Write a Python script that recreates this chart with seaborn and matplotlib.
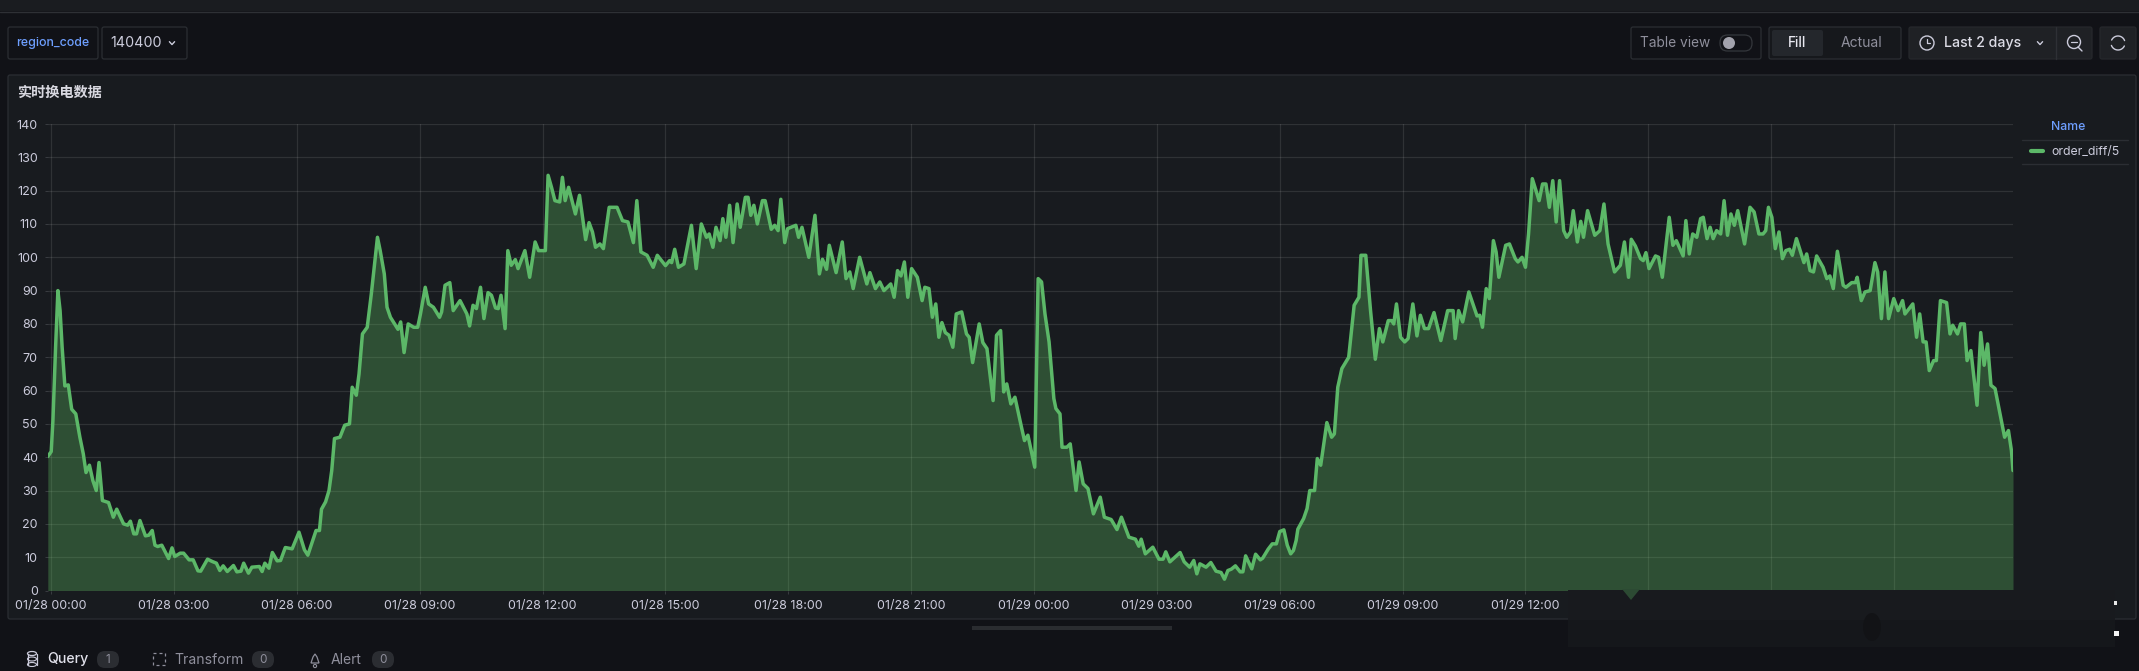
import matplotlib
matplotlib.use("Agg")
import matplotlib.pyplot as plt
from matplotlib.patches import Rectangle, FancyBboxPatch, Circle, Polygon, Ellipse
import seaborn as sns
import numpy as np

# ---- data: minutes since 01/28 00:00, value read at each visible vertex ----
night1_min = [-5,0,2.5,6.4,9.8,13,16,20,25,30,36,42,47,51,56,61,66,70,75,84,91,96,106,112,116,121,125,130,138,143,148,152,156,162,172,177,181,189,194,202,208,215,219,229,236,242,247,252,258,267,272,278,282,289,294,305,309,313,319,324,331,336,343,353,363,371,376,388,393]
night1_val = [40.2,41.7,51,73,90,84,73,61.4,61.7,54.4,53,46,41,35.4,37.6,33,30,38.4,27,26.4,22,24.4,20,19.6,20.8,17,17,21,16.4,16.6,18,13.6,13.2,13.6,9.6,12.8,10.2,11.2,11.2,9.2,9.2,5.9,5.8,9.4,8.7,8.2,6,7.4,5.7,7.5,5.6,5.8,8.2,5.2,7,7.2,5.7,8.2,6.7,11.4,8.9,9,12.9,12.5,17.5,12.2,10.6,18,18]

morning1_min = [396,402,407,411,415,423,430,437,441,447,451,456,463,469,478,482,488,492,497,508,512,517,523,531,537,541,548,553,560,569,572,577,584,589,599,609,613,618,623,629,634,640,645,651,655,659,665,669,674,680,684,694,701]
morning1_val = [24.4,26.6,30,36,45.6,46,49.6,50,61,58.6,65,77,79,89,106,102,95,85,82,78.4,80.6,71.4,80,79,79,83,91,86,85,82,83.6,91.6,92.4,84,87,83,79.4,85.6,84.6,91,81.6,89.4,88.6,84.8,84.6,88.6,78.6,102,97.6,99.3,96.6,102,94]

day1_min = [709,714,724,728,733,738,745,749,753,758,768,774,783,788,793,797.5,804,809,817.5,829,837,845,853,858,864,873,882,888,900,906,909,913.5,919,927,938,945,952.5,960,964,969.5,974,980,984,988.5,994,999,1005,1009.5,1017,1021,1025,1029.5,1034.6,1042,1046,1055,1060,1065,1069,1074.7,1079,1091,1095,1100,1110,1119,1125.5,1130,1136,1140,1150,1159,1164.5,1170,1175,1184.5,1195,1199.5,1207.6,1214,1220,1230,1235,1240,1245,1250,1255,1260.6,1269,1276,1280,1286,1291,1296,1300.5,1305,1310,1315.4,1321,1326,1334,1341,1345,1350,1359.6,1365,1371,1380,1385,1391,1395.5,1400,1406,1412,1422,1426,1431]
day1_val = [104.6,102,102,124.6,121,117,116.6,124,117,121,113,118.6,105.3,110.4,107.6,103,104,102.6,115,115,111,110.6,104.4,117,101.6,100.6,97,100.6,97.5,99,98.4,102.4,97,98,109.6,96.6,110,106,107,103,109,105,111.6,106,115.6,104.4,116,109,118,118,112.6,115.6,110,117,117,108.4,109.6,108,117.4,104.4,108.6,109.6,106,109,100,112.6,95,99.4,96.4,103.6,95.4,104.6,93.6,95.6,90.6,100,92,95.4,90.6,92.6,90,92,88,96,94.4,98.6,88,96.6,94,87,91,90.6,82,86,76,80.4,77.4,76.6,73,83,83.6,77,76,68.4,80,74.4,72.6,57,76.6,78,59.6,62,56,58,48.6,45,46.6]

night2_min = [1441,1446,1451,1456,1462,1469,1472,1478,1481,1488,1493,1501.5,1506,1512,1519,1527,1537,1543,1553,1561.5,1568,1579,1588.5,1593.5,1597,1603,1614,1623,1629,1633,1639,1654,1660,1668,1674,1678.5,1683,1692,1699,1706.6,1714,1719,1724,1729,1735,1742,1746,1750,1759,1764.6,1771.5,1775,1783,1789,1795,1800,1806,1811,1816,1820,1824]
night2_val = [37,93.6,92.6,83,74.6,57.6,54.6,53,43,43,44,30,38.6,32,30.6,23,28,22,21.3,18.3,22,16,15.4,13.3,15.4,11,13,9.4,9.4,11.6,8.6,11.4,8.6,7,9,5,8,7,8.4,5.8,5.4,3.4,6,6.4,7.4,5.6,5.6,10.4,6.5,10.9,9.2,9.7,12.4,14,14,17.7,18.2,13.6,11,12,15]

morning2_min = [1826.5,1835,1840,1844,1851,1855,1860,1869,1876,1880,1885,1891,1901,1909,1916,1919,1926,1933,1940,1946,1951,1959,1964,1967,1971,1977,1983,1988,1995,2001,2006,2012,2018,2026,2036,2046,2054,2057,2062,2068,2077,2089,2093,2097,2102.5,2107,2113,2117,2121]
morning2_val = [18.4,21.6,24.6,30,30,39.6,37.6,50.4,46,47,61,66.6,70,85.6,88,100.6,100.6,84,69.4,78.6,74.6,81,81,80,86,76,74.6,75.6,86,76.4,82.6,78.6,78.6,83.4,75,84,84,75.6,84,80.6,89.6,82.4,82.6,79,90.6,87.6,105,101.6,94]

day2_min = [2131,2136.5,2145,2149,2155,2160,2164.5,2170,2180,2185,2190,2195,2200,2205,2210,2216,2220.5,2226,2230,2236,2241,2245,2251,2261.5,2269,2275,2281,2290.5,2299,2305,2311,2315,2321,2328.6,2332.5,2336.5,2341,2350.5,2355,2360.5,2370.6,2376,2381,2391,2395,2400,2405,2411,2416.6,2420.5,2426,2430.6,2435,2440,2446,2451,2456,2461,2466,2471,2481,2489,2495,2502,2508,2512,2516,2521,2526,2531.4,2536.5,2541.5,2547,2551,2557,2568,2572,2577,2582,2586.6,2596,2601.5,2606,2611,2617,2625.5,2629.5,2638,2643.5,2646,2652,2657.5,2665,2672,2676,2681.5,2686.6,2692,2699.6,2706,2712.5,2716,2727.5,2733,2737.6,2742.6,2747,2751.6,2758,2762,2768,2777,2782,2786,2793,2797.5,2803,2807,2812.6,2821.6,2827,2832,2837,2842,2848,2862,2867.6,2872,2874.3]
day2_val = [103.6,104,99.6,98.6,100,97,107,123.6,117,122,122,115,123,110.6,123,108,106,107.6,114,104.6,110.8,106,114,106.6,108,116,104,95.6,97.6,104.6,94,105.4,103.4,99.6,99,101.4,96.6,100.4,100,94,112,103.6,105,100.4,111,101,107,106,111.6,112,105.6,109,105.6,108,107,117,106.6,113,109.6,114,104,115,113.6,107,107,108,115,112,102.6,107.6,99.6,102,102.4,100.6,105.6,98.4,101,96,95.6,100.4,97,93.6,94.4,90.6,101.8,91.6,91,92.4,92.4,94,87,89.6,90,98.4,95.6,81.6,95.6,81.6,87.6,84,87,83,86,76,83,74.6,74.6,66,69,69,87,86.4,77,79.6,77,80,80,69,72,55.6,77.4,67.6,74,61.6,60.6,46,48,42,36]

tick_minutes = list(range(0, 2701, 180))
tick_labels = ["01/28 00:00","01/28 03:00","01/28 06:00","01/28 09:00","01/28 12:00","01/28 15:00",
               "01/28 18:00","01/28 21:00","01/29 00:00","01/29 03:00","01/29 06:00","01/29 09:00",
               "01/29 12:00","","",""]
y_ticks = list(range(0, 141, 10))
series_name = "order_diff/5"
panel_title = "实时换电数据"

minutes = np.array(night1_min + morning1_min + day1_min + night2_min + morning2_min + day2_min, dtype=float)
values = np.array(night1_val + morning1_val + day1_val + night2_val + morning2_val + day2_val, dtype=float)
assert len(minutes) == len(values), (len(minutes), len(values))

# ---- styling ----
W, H = 2139, 671
PAGE = "#111217"; PANEL = "#181b1f"; BORDER = "#2b2e33"
GREEN = "#5cb868"; TXT = "#ccccdc"; DIM = "#8f8f9c"; BLUE = "#6e9fff"
sns.set_theme(style="dark", rc={"axes.facecolor": "none", "figure.facecolor": PAGE})
plt.rcParams["font.family"] = ["Inter", "Noto Sans CJK SC", "DejaVu Sans"]

fig = plt.figure(figsize=(W / 100, H / 100), dpi=100, facecolor=PAGE)

# background UI layer, in pixel coordinates
bg = fig.add_axes([0, 0, 1, 1], zorder=0)
bg.set_xlim(0, W); bg.set_ylim(H, 0); bg.axis("off")

def box(ax, x0, y0, x1, y1, fc="none", ec=BORDER, r=2, lw=0.9, z=2):
    ax.add_patch(FancyBboxPatch((x0 + r, y0 + r), x1 - x0 - 2 * r, y1 - y0 - 2 * r,
                                boxstyle=f"round,pad={r},rounding_size={r}", fc=fc, ec=ec, lw=lw, zorder=z))

def label(ax, x, y, s, color=TXT, size=9.2, ha="left", weight="normal", z=5):
    ax.text(x, y + 1, s, color=color, fontsize=size, ha=ha, va="center", fontweight=weight, zorder=z)

def chevron(ax, x, y, s=2.6, color=TXT):
    ax.plot([x - s, x, x + s], [y - s * 0.5, y + s * 0.6, y - s * 0.5], color=color, lw=1.0, zorder=5)

bg.add_patch(Rectangle((0, 0), W, 11, fc="#1a1c20", ec="none"))
bg.plot([0, W], [11.5, 11.5], color="#2e3035", lw=1)

box(bg, 8, 27, 98, 59)
label(bg, 52.5, 42, "region_code", BLUE, 8.9, "center", "medium")
box(bg, 102, 27, 187, 59)
label(bg, 110, 42, "140400", TXT, 10.3)
chevron(bg, 172, 43)

box(bg, 1631, 27, 1761, 59)
label(bg, 1640, 42, "Table view", DIM, 9.9)
box(bg, 1720, 35, 1752, 51, r=7.5, ec="#34373c")
bg.add_patch(Circle((1729, 43), 6, fc="#a2a2ac", ec="none", zorder=5))

box(bg, 1769, 27, 1901, 59, fc="#16181c")
box(bg, 1772, 30, 1823, 56, fc="#24272c", ec="none")
label(bg, 1797, 42, "Fill", "#e8e8f0", 9.8, "center", "medium")
label(bg, 1861, 42, "Actual", DIM, 10, "center")

box(bg, 1909, 27, 2092, 59, fc="#1f2125", ec="#26282c")
bg.add_patch(Circle((1927, 43), 7, fc="none", ec=TXT, lw=1, zorder=5))
bg.plot([1927, 1927, 1930], [38.5, 43, 43], color=TXT, lw=0.9, zorder=5)
label(bg, 1944, 42, "Last 2 days", "#dcdce6", 10.2, "left", "medium")
chevron(bg, 2040, 43)
bg.plot([2056, 2056], [27, 59], color="#2e3035", lw=1, zorder=4)
bg.add_patch(Circle((2074, 42), 6.5, fc="none", ec=TXT, lw=1, zorder=5))
bg.plot([2071, 2077], [42, 42], color=TXT, lw=0.9, zorder=5)
bg.plot([2078, 2082], [47, 51], color=TXT, lw=1, zorder=5)
box(bg, 2100, 27, 2136, 59, fc="#1f2125", ec="#26282c")
th = np.radians(np.arange(20, 160, 5))
bg.plot(2118 + 7 * np.cos(th), 43 - 7 * np.sin(th), color=TXT, lw=1, zorder=5)
bg.plot(2118 + 7 * np.cos(th + np.pi), 43 - 7 * np.sin(th + np.pi), color=TXT, lw=1, zorder=5)

box(bg, 8, 75, 2136, 619, fc=PANEL)
label(bg, 17, 92, panel_title, "#d8d8e0", 10.2, "left", "bold")

label(bg, 2068, 126.5, "Name", BLUE, 8.8, "center", "medium")
bg.plot([2022, 2128], [139.5, 139.5], color=BORDER, lw=1, zorder=4)
bg.plot([2022, 2128], [163.5, 163.5], color=BORDER, lw=1, zorder=4)
bg.plot([2031, 2043], [151, 151], color=GREEN, lw=3, solid_capstyle="round", zorder=5)
label(bg, 2051, 150.5, series_name, TXT, 8.8)

bg.add_patch(Rectangle((972, 626), 200, 4, fc="#2a2c30", ec="none", zorder=5))

# bottom tabs
bg.add_patch(Ellipse((32, 653.5), 9, 4, fc="none", ec=TXT, lw=0.9))
bg.plot([27.5, 27.5], [653.5, 664.5], color=TXT, lw=0.9)
bg.plot([36.5, 36.5], [653.5, 664.5], color=TXT, lw=0.9)
bg.add_patch(Ellipse((32, 659), 9, 4, fc="none", ec=TXT, lw=0.8))
bg.add_patch(Ellipse((32, 664.5), 9, 4, fc="none", ec=TXT, lw=0.8))
label(bg, 47.5, 658.5, "Query", "#e0e0ea", 10.2, "left", "medium")
box(bg, 97, 651, 119, 668, fc="#2b2d32", ec="none", r=8)
label(bg, 107.5, 659, "1", DIM, 8.4, "center")
bg.add_patch(Rectangle((153, 653), 12, 12, fc="none", ec=DIM, lw=0.9, ls=(0, (2.4, 2.4))))
label(bg, 174.5, 658.5, "Transform", DIM, 10.1)
box(bg, 252, 651, 274, 668, fc="#2b2d32", ec="none", r=8)
label(bg, 263, 659, "0", DIM, 8.4, "center")
bg.add_patch(Polygon([[311, 663], [313, 657], [315, 654], [317, 657], [319, 663]], closed=True, fc="none", ec=DIM, lw=0.9))
bg.add_patch(Circle((315, 666), 1.6, fc="none", ec=DIM, lw=0.8))
label(bg, 331, 658.5, "Alert", DIM, 10)
box(bg, 372, 651, 394, 668, fc="#2b2d32", ec="none", r=8)
label(bg, 383, 659, "0", DIM, 8.4, "center")

# chart axes
ax_left, ax_right, ax_top, ax_bottom = 47.8, 2013, 124, 590.5
ax = fig.add_axes([ax_left / W, 1 - ax_bottom / H, (ax_right - ax_left) / W, (ax_bottom - ax_top) / H], zorder=1)
ax.set_facecolor("none")
ax.fill_between(minutes, values, 0, color="#64c865", alpha=0.30, lw=0, zorder=3)
sns.lineplot(x=minutes, y=values, ax=ax, color=GREEN, lw=2.5, estimator=None, sort=False, errorbar=None, zorder=4)
ax.set_xlim(minutes[0], minutes[-1]); ax.set_ylim(0, 140)
ax.set_xlabel(""); ax.set_ylabel("")
ax.set_xticks(tick_minutes); ax.set_xticklabels(tick_labels)
ax.set_yticks(y_ticks)
ax.grid(True, color="#ffffff", alpha=0.10, lw=0.9, zorder=1)
ax.set_axisbelow(True)
for s in ax.spines.values():
    s.set_visible(False)
ax.tick_params(axis="x", length=2.2, width=0.7, color="#3a3d42", pad=5, labelsize=9, labelcolor=TXT, bottom=True)
ax.tick_params(axis="y", length=2.2, width=0.7, color="#3a3d42", pad=5, labelsize=9, labelcolor=TXT, left=True)

# smudged area at lower right of the screenshot
top = fig.add_axes([0, 0, 1, 1], zorder=2)
top.set_xlim(0, W); top.set_ylim(H, 0); top.axis("off"); top.patch.set_alpha(0)
top.add_patch(Rectangle((1568, 590), 547, 30, fc="#181a1e", ec="none"))
top.add_patch(Rectangle((1568, 620), 547, 27, fc="#15171b", ec="none"))
top.add_patch(Polygon([[1622, 589], [1640, 589], [1631, 600]], closed=True, fc="#2c4a33", ec="none"))
top.add_patch(Ellipse((1872, 627), 18, 28, fc="#121316", ec="none"))
top.add_patch(Rectangle((2114, 601), 3, 4, fc="#e8e8e8", ec="none"))
top.add_patch(Rectangle((2114, 631), 5, 5, fc="#f4f4f4", ec="none"))

fig.savefig("out.png", dpi=100, facecolor=PAGE)
